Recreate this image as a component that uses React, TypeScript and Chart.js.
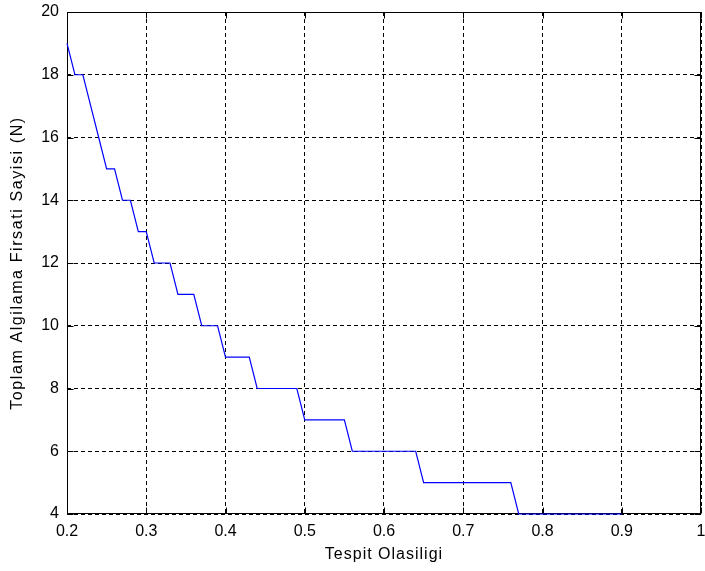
import React, { useEffect, useRef } from "react";
import { Chart, registerables } from "chart.js";

Chart.register(...registerables);

// Detection probability (x) and total detection opportunities N (y)
const probValues = [
  0.2, 0.21, 0.22, 0.23, 0.24, 0.25, 0.26, 0.27, 0.28, 0.29,
  0.3, 0.31, 0.32, 0.33, 0.34, 0.35, 0.36, 0.37, 0.38, 0.39,
  0.4, 0.41, 0.42, 0.43, 0.44, 0.45, 0.46, 0.47, 0.48, 0.49,
  0.5, 0.51, 0.52, 0.53, 0.54, 0.55, 0.56, 0.57, 0.58, 0.59,
  0.6, 0.61, 0.62, 0.63, 0.64, 0.65, 0.66, 0.67, 0.68, 0.69,
  0.7, 0.71, 0.72, 0.73, 0.74, 0.75, 0.76, 0.77, 0.78, 0.79,
  0.8, 0.81, 0.82, 0.83, 0.84, 0.85, 0.86, 0.87, 0.88, 0.89,
  0.9,
];
const nValues = [
  19, 18, 18, 17, 16, 15, 15, 14, 14, 13,
  13, 12, 12, 12, 11, 11, 11, 10, 10, 10,
  9, 9, 9, 9, 8, 8, 8, 8, 8, 8,
  7, 7, 7, 7, 7, 7, 6, 6, 6, 6,
  6, 6, 6, 6, 6, 5, 5, 5, 5, 5,
  5, 5, 5, 5, 5, 5, 5, 4, 4, 4,
  4, 4, 4, 4, 4, 4, 4, 4, 4, 4,
  4,
];
const xTickValues = [0.2, 0.3, 0.4, 0.5, 0.6, 0.7, 0.8, 0.9, 1];
const yTickValues = [4, 6, 8, 10, 12, 14, 16, 18, 20];
const xTitle = "Tespit Olasiligi";
const yTitle = "Toplam Algilama Firsati Sayisi (N)";

const FONT = "'Liberation Sans', Arial, sans-serif";

const framePlugin = {
  id: "matlabFrame",
  beforeDatasetsDraw(chart: any) {
    const { ctx, chartArea, scales } = chart;
    const l = Math.round(chartArea.left) + 0.5;
    const r = Math.round(chartArea.right) - 0.5;
    const t = Math.round(chartArea.top) + 0.5;
    const b = Math.round(chartArea.bottom) - 0.5;
    const tick = 6;
    ctx.save();
    ctx.strokeStyle = "#000";
    ctx.lineWidth = 1;
    ctx.setLineDash([]);
    ctx.strokeRect(l, t, r - l, b - t);
    ctx.beginPath();
    scales.x.ticks.forEach((tk: any) => {
      const px = Math.round(scales.x.getPixelForValue(tk.value)) + 0.5;
      ctx.moveTo(px, b);
      ctx.lineTo(px, b - tick);
      ctx.moveTo(px, t);
      ctx.lineTo(px, t + tick);
    });
    scales.y.ticks.forEach((tk: any) => {
      const py = Math.round(scales.y.getPixelForValue(tk.value)) + 0.5;
      ctx.moveTo(l, py);
      ctx.lineTo(l + tick, py);
      ctx.moveTo(r, py);
      ctx.lineTo(r - tick, py);
    });
    ctx.stroke();
    ctx.restore();
  },
  afterDraw(chart: any) {
    const { ctx, chartArea } = chart;
    ctx.save();
    ctx.fillStyle = "#000";
    ctx.font = `16px ${FONT}`;
    ctx.textAlign = "center";
    ctx.textBaseline = "middle";
    (ctx as any).letterSpacing = "1px";
    ctx.fillText(xTitle, (chartArea.left + chartArea.right) / 2, 555);
    (ctx as any).letterSpacing = "1.6px";
    ctx.translate(18, (chartArea.top + chartArea.bottom) / 2);
    ctx.rotate(-Math.PI / 2);
    ctx.fillText(yTitle, 0, 0);
    ctx.restore();
  },
};

export default function App() {
  const canvasRef = useRef<HTMLCanvasElement | null>(null);

  useEffect(() => {
    const canvas = canvasRef.current;
    if (!canvas) return;
    const chart = new Chart(canvas, {
      type: "line",
      data: {
        datasets: [
          {
            data: probValues.map((p, i) => ({ x: p, y: nValues[i] })),
            borderColor: "#0000ff",
            borderWidth: 1.2,
            pointRadius: 0,
            tension: 0,
            fill: false,
            clip: false as any,
          },
        ],
      },
      options: {
        responsive: false,
        animation: false,
        devicePixelRatio: 1,
        layout: { padding: { top: 12, right: 4, left: 0, bottom: 0 } },
        plugins: {
          legend: { display: false },
          tooltip: { enabled: false },
        },
        scales: {
          x: {
            type: "linear",
            min: 0.2,
            max: 1,
            afterBuildTicks: (s: any) => {
              s.ticks = xTickValues.map((v) => ({ value: v }));
            },
            afterFit: (s: any) => {
              s.height = 57;
              s.paddingLeft = 0;
              s.paddingRight = 0;
            },
            border: { display: false, dash: [4, 3] },
            grid: {
              color: "#000",
              lineWidth: 1,
              tickLength: 0,
              drawTicks: false,
            },
            ticks: {
              color: "#000",
              font: { family: FONT, size: 16 },
              padding: 8,
              maxRotation: 0,
              autoSkip: false,
              callback: (v: any) => String(v),
            },
          },
          y: {
            type: "linear",
            min: 4,
            max: 20,
            afterBuildTicks: (s: any) => {
              s.ticks = yTickValues.map((v) => ({ value: v }));
            },
            afterFit: (s: any) => {
              s.width = 67;
              s.paddingTop = 0;
              s.paddingBottom = 0;
            },
            border: { display: false, dash: [4, 3] },
            grid: {
              color: "#000",
              lineWidth: 1,
              tickLength: 0,
              drawTicks: false,
            },
            ticks: {
              color: "#000",
              font: { family: FONT, size: 16 },
              padding: 8,
              autoSkip: false,
              callback: (v: any) => String(v),
            },
          },
        },
      },
      plugins: [framePlugin],
    } as any);
    return () => chart.destroy();
  }, []);

  return (
    <div style={{ position: "absolute", left: 0, top: 0, width: 705, height: 571, background: "#fff" }}>
      <canvas ref={canvasRef} width={705} height={571} style={{ display: "block" }} />
    </div>
  );
}
